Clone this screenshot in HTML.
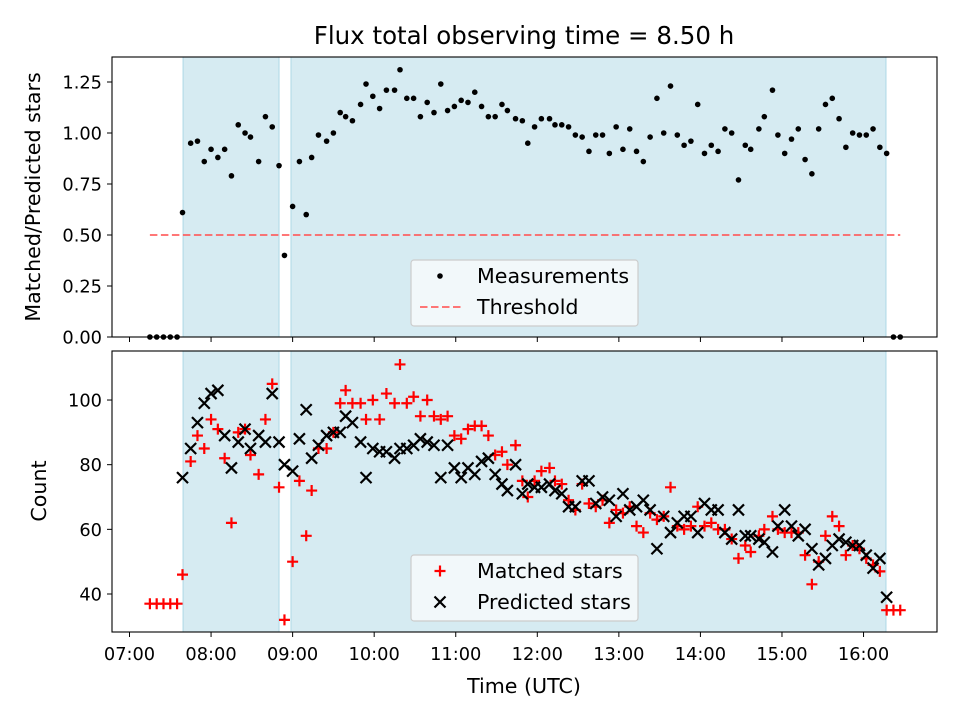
<!DOCTYPE html>
<html><head><meta charset="utf-8"><style>
html,body{margin:0;padding:0;background:#fff;}
svg{display:block;font-family:"DejaVu Sans","Liberation Sans",sans-serif;}
</style></head><body>
<svg id="chart" width="960" height="720" viewBox="0 0 960 720" xmlns="http://www.w3.org/2000/svg">
<text x="524" y="44" text-anchor="middle" font-size="24.5">Flux total observing time = 8.50 h</text>
<text transform="translate(40,197) rotate(-90)" text-anchor="middle" font-size="20.6">Matched/Predicted stars</text>
<text transform="translate(46,491) rotate(-90)" text-anchor="middle" font-size="20.6">Count</text>
<text x="524" y="693" text-anchor="middle" font-size="20.6">Time (UTC)</text>
<g id="top"></g><g id="bot"></g>
</svg>
<script>
// minutes since 07:00 UTC
const times = [39,45,50,55,60,65,70,75,80,85,89,95,100,105,110,114,120,125,130,134,139,145,150,155,159,164,170,174,179,184,189,195,199,204,209,214,219,224,229,234,239,244,249,254,259,264,269,274,278,284,289,293,298,303,309,313,318,323,328,333,338,343,348,353,358,363,368,373,378,383,388,393,398,403,408,413,418,423,428,433,438,443,448,453,457,463,467,473,477,482,487,492,497,502,507,512,517,522,527,532,537,542,547,552,557];
const ratios = [0.61,0.95,0.96,0.86,0.92,0.88,0.92,0.79,1.04,1.00,0.98,0.86,1.08,1.03,0.84,0.40,0.64,0.86,0.60,0.88,0.99,0.96,1.00,1.10,1.08,1.06,1.14,1.24,1.18,1.12,1.21,1.21,1.31,1.17,1.17,1.08,1.15,1.10,1.24,1.11,1.13,1.16,1.15,1.20,1.13,1.08,1.08,1.14,1.11,1.07,1.06,0.95,1.03,1.07,1.07,1.04,1.04,1.03,0.99,0.98,0.91,0.99,0.99,0.90,1.03,0.92,1.02,0.91,0.86,0.98,1.17,1.00,1.23,0.99,0.94,0.96,1.14,0.90,0.94,0.91,1.02,1.00,0.77,0.94,0.92,1.02,1.08,1.21,0.99,0.90,0.97,1.02,0.87,0.80,1.02,1.14,1.17,1.07,0.93,1.00,0.99,0.99,1.02,0.93,0.90];
const matched = [46,81,89,85,94,91,82,62,90,91,83,77,94,105,73,32,50,75,58,72,85,85,90,99,103,99,99,94,100,94,102,99,111,99,101,95,100,95,94,95,89,88,91,92,92,89,83,84,80,86,75,70,75,78,79,75,74,69,66,74,68,67,69,62,66,65,67,61,59,65,63,64,73,61,60,61,67,61,62,60,60,57,51,55,53,58,60,64,60,59,59,59,52,43,50,58,64,61,52,55,54,51,49,47,35];
const predicted = [76,85,93,99,102,103,89,79,87,91,85,89,87,102,87,80,78,88,97,82,86,89,90,90,95,93,87,76,85,84,84,82,85,85,86,88,87,86,76,86,79,76,79,77,81,82,77,74,72,80,71,74,73,73,74,72,71,67,67,75,75,68,70,69,64,71,66,67,69,66,54,64,59,62,64,64,59,68,66,66,59,57,66,58,58,57,56,53,61,66,61,58,60,54,49,51,55,57,56,55,55,52,48,51,39];
const zeroTimes = [15,20,25,30,35,562,567];
const zeroRatios = [0,0,0,0,0,0,0];
const zeroMatched = [37,37,37,37,37,35,35];
const spans = [[39.4,110],[118.8,556.5]];
const threshold = 0.5;
const xTicks = [0,60,120,180,240,300,360,420,480,540];
const xTickLabels = ["07:00","08:00","09:00","10:00","11:00","12:00","13:00","14:00","15:00","16:00"];
const topTicks = [0,0.25,0.5,0.75,1.0,1.25];
const topTickLabels = ["0.00","0.25","0.50","0.75","1.00","1.25"];
const botTicks = [40,60,80,100];
const botTickLabels = ["40","60","80","100"];

const NS="http://www.w3.org/2000/svg";
const L=112,R=937;
const FS=17.8;
const xs=m=>129.5+m*81.56/60;
const yTop=v=>337-v*204;
const yBot=c=>594-(c-40)*3.233;
function mk(p,tag,at){const e=document.createElementNS(NS,tag);for(const k in at)e.setAttribute(k,at[k]);p.appendChild(e);return e;}

function panel(g,T,B,yf,ticks,labels,showX){
  for(const s of spans){
    const r=mk(g,'rect',{x:xs(s[0]),y:T,width:xs(s[1])-xs(s[0]),height:B-T,fill:'#add8e6','fill-opacity':0.5,stroke:'#add8e6','stroke-width':1});
    
    
  }
  ticks.forEach((v,i)=>{
    const y=yf(v);
    mk(g,'line',{x1:L-5,x2:L,y1:y,y2:y,stroke:'#000','stroke-width':1});
    const t=mk(g,'text',{x:L-10,y:y+6.5,'text-anchor':'end','font-size':FS});
    t.textContent=labels[i];
    
    
  });
  xTicks.forEach((m,i)=>{
    const x=xs(m);
    mk(g,'line',{x1:x,x2:x,y1:B,y2:B+5,stroke:'#000','stroke-width':1});
    if(showX){const t=mk(g,'text',{x:x,y:B+28,'text-anchor':'middle','font-size':FS});t.textContent=xTickLabels[i];
      
      }
  });
}
function frame(g,T,B){const f=mk(g,'rect',{x:L,y:T,width:R-L,height:B-T,fill:'none',stroke:'#000','stroke-width':1.1});
  
  }

// top panel
const gt=document.getElementById('top');
panel(gt,57,337,yTop,topTicks,topTickLabels,false);
const th=mk(gt,'line',{x1:xs(15),x2:xs(567),y1:yTop(threshold),y2:yTop(threshold),stroke:'#ff5555','stroke-opacity':0.8,'stroke-width':2,'stroke-dasharray':'7.5,3.5'});


times.concat(zeroTimes).forEach((m,i)=>{
  const v=i<times.length?ratios[i]:zeroRatios[i-times.length];
  const c=mk(gt,'circle',{cx:xs(m),cy:yTop(v),r:2.8,fill:'#000'});
  
  
});
frame(gt,57,337);

// bottom panel
const gb=document.getElementById('bot');
panel(gb,351,632,yBot,botTicks,botTickLabels,true);
function plus(g,x,y){return mk(g,'path',{d:`M${x-5.5},${y}H${x+5.5}M${x},${y-5.5}V${y+5.5}`,stroke:'#f00','stroke-width':2.2});}
function cross(g,x,y){return mk(g,'path',{d:`M${x-5.5},${y-5.5}L${x+5.5},${y+5.5}M${x-5.5},${y+5.5}L${x+5.5},${y-5.5}`,stroke:'#000','stroke-width':2.2});}
times.forEach((m,i)=>{
  const p=plus(gb,xs(m),yBot(matched[i]));
  
  
});
zeroTimes.forEach((m,i)=>{
  const p=plus(gb,xs(m),yBot(zeroMatched[i]));
  
  
});
times.forEach((m,i)=>{
  const p=cross(gb,xs(m),yBot(predicted[i]));
  
  
});
frame(gb,351,632);

// legends
function legend(g,y0,name,items){
  const lg=mk(g,'g',{});
  
  
  mk(lg,'rect',{x:411,y:y0,width:227,height:66,rx:3,fill:'#f7fafc','fill-opacity':0.85,stroke:'#cccccc','stroke-width':1.2});
  items.forEach((it,i)=>{
    const cy=y0+16+i*31;
    if(it.k==='dot')mk(lg,'circle',{cx:440,cy:cy,r:2.8,fill:'#000'});
    if(it.k==='dash')mk(lg,'line',{x1:420,x2:461,y1:cy,y2:cy,stroke:'#ff5555','stroke-opacity':0.8,'stroke-width':2,'stroke-dasharray':'7.5,3.5'});
    if(it.k==='plus')plus(lg,440,cy);
    if(it.k==='cross')cross(lg,440,cy);
    const t=mk(lg,'text',{x:477,y:cy+7,'font-size':20.6});t.textContent=it.t;
    
    
  });
}
legend(gt,260,'top-legend',[{k:'dot',t:'Measurements'},{k:'dash',t:'Threshold'}]);
legend(gb,555,'bottom-legend',[{k:'plus',t:'Matched stars'},{k:'cross',t:'Predicted stars'}]);
</script>
</body></html>
